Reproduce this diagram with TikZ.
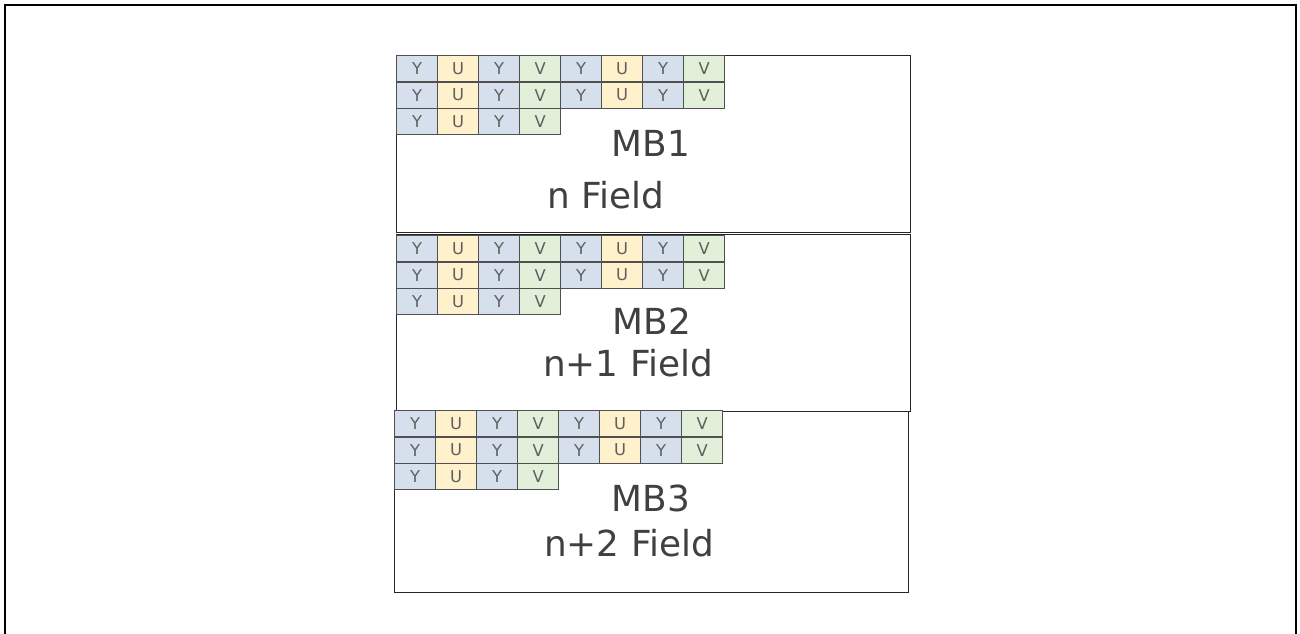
\documentclass[tikz,border=0pt]{standalone}
\usepackage{fontspec}
\setmainfont{DejaVu Sans}
\usepackage{tikz}
\usetikzlibrary{positioning}

\definecolor{ycol}{RGB}{214,223,236}
\definecolor{ucol}{RGB}{255,241,204}
\definecolor{vcol}{RGB}{226,239,217}
\definecolor{cellline}{RGB}{80,80,80}
\definecolor{celltext}{RGB}{95,95,95}
\definecolor{labeltext}{RGB}{64,64,64}

\begin{document}
\begin{tikzpicture}[x=0.02cm, y=-0.02cm,
  cell/.style={draw=cellline, line width=0.7pt, minimum width=0.82cm, minimum height=0.526cm,
    inner sep=0pt, anchor=north west, text=celltext, font=\fontsize{9.3}{10}\selectfont},
  ycell/.style={cell, fill=ycol},
  ucell/.style={cell, fill=ucol},
  vcell/.style={cell, fill=vcol},
  mbbox/.style={draw=black!85, line width=0.8pt, anchor=north west, minimum width=10.28cm,
    minimum height=3.54cm, inner sep=0pt},
  mblabel/.style={anchor=base, text=labeltext, font=\fontsize{20.4}{24}\selectfont}]

  \useasboundingbox (0,0) rectangle (1300,634);
  \draw[line width=1.2pt] (5,650) -- (5,5) -- (1296,5) -- (1296,650);

  % macroblocks
  \node[mbbox] (mb1) at (396,55) {};
  \node[mbbox] (mb2) at (396,234) {};
  \node[mbbox, minimum height=3.62cm] (mb3) at (394,411) {};

  % YUYV samples
  \foreach \b/\bx/\by in {1/396/55, 2/396/235, 3/394/410} {
    \foreach \r/\n in {0/8, 1/8, 2/4} {
      \foreach \k/\s/\t in {0/ycell/Y, 1/ucell/U, 2/ycell/Y, 3/vcell/V,
                            4/ycell/Y, 5/ucell/U, 6/ycell/Y, 7/vcell/V} {
        \ifnum\k<\n
          \node[\s] (c\b-\r-\k) at (\bx+41*\k, \by+26.3*\r) {\t};
        \fi
      }
    }
  }

  % labels
  \node[mblabel] (mb1name)  at (651,157) {MB1};
  \node[mblabel] (mb1field) at (606,209) {n Field};
  \node[mblabel] (mb2name)  at (652,335) {MB2};
  \node[mblabel] (mb2field) at (628,377) {n+1 Field};
  \node[mblabel] (mb3name)  at (651,511) {MB3};
  \node[mblabel] (mb3field) at (629,556) {n+2 Field};
\end{tikzpicture}
\end{document}
